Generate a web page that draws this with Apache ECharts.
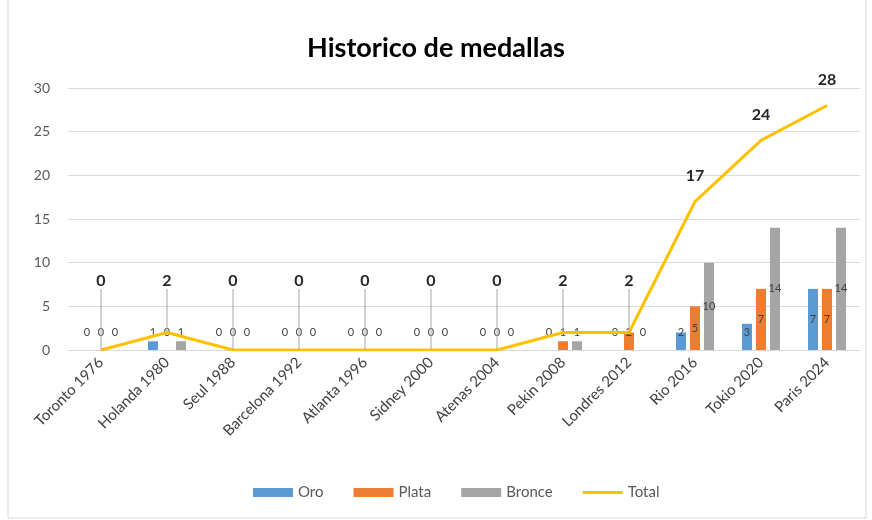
<!DOCTYPE html>
<html>
<head>
<meta charset="utf-8">
<script src="https://cdn.jsdelivr.net/npm/echarts@6/dist/echarts.min.js"></script>
<style>
  html, body { margin: 0; padding: 0; background: #fff; }
  #chart { width: 872px; height: 520px; }
</style>
</head>
<body>
<div id="chart"></div>
<script>
// datos
var juegos = ['Toronto 1976', 'Holanda 1980', 'Seul 1988', 'Barcelona 1992', 'Atlanta 1996', 'Sidney 2000',
  'Atenas 2004', 'Pekin 2008', 'Londres 2012', 'Rio 2016', 'Tokio 2020', 'Paris 2024'];
var oro    = [0, 1, 0, 0, 0, 0, 0, 0, 0, 2, 3, 7];
var plata  = [0, 0, 0, 0, 0, 0, 0, 1, 2, 5, 7, 7];
var bronce = [0, 1, 0, 0, 0, 0, 0, 1, 0, 10, 14, 14];
var total  = [0, 2, 0, 0, 0, 0, 0, 2, 2, 17, 24, 28];
var yTicks = [0, 5, 10, 15, 20, 25, 30];

var chart = echarts.init(document.getElementById('chart'));
var font = 'Lato, "Open Sans", sans-serif';

// etiquetas pequeñas en barras: centradas, pero no mas abajo que cerca del eje
function barData(arr) {
  return arr.map(function (v) {
    if (v <= 3) return { value: v, label: { position: 'insideBottom', distance: 12 } };
    return { value: v };
  });
}

function barSerie(name, arr, color) {
  return {
    name: name,
    type: 'bar',
    barWidth: 10,
    barGap: '40%',
    itemStyle: { color: color },
    label: {
      show: true,
      position: 'inside',
      color: '#404040',
      fontSize: 11,
      fontFamily: font
    },
    data: barData(arr)
  };
}

// totales bajos: etiqueta subida con linea guia
var totalData = total.map(function (v) {
  return { value: v, labelLine: { show: v <= 2 } };
});

var option = {
  animation: false,
  backgroundColor: '#fff',
  textStyle: { fontFamily: font },
  title: {
    text: 'Historico de medallas',
    left: 'center',
    top: 30,
    textStyle: { fontSize: 27, fontWeight: 'bold', color: '#000', fontFamily: font }
  },
  graphic: [{
    type: 'rect',
    shape: { x: 8, y: -2, width: 858, height: 520 },
    style: { fill: 'none', stroke: '#d9d9d9', lineWidth: 1 },
    silent: true
  }],
  legend: {
    bottom: 15,
    left: 248,
    itemWidth: 40,
    itemHeight: 9,
    itemGap: 30,
    textStyle: { fontSize: 15, color: '#595959', fontFamily: font },
    data: [
      { name: 'Oro', icon: 'rect' },
      { name: 'Plata', icon: 'rect' },
      { name: 'Bronce', icon: 'rect' },
      { name: 'Total', icon: 'path://M0,0 L40,0 L40,3 L0,3 Z' }
    ]
  },
  grid: { left: 68, right: 12, top: 88, bottom: 170, containLabel: false },
  xAxis: {
    type: 'category',
    data: juegos,
    axisLine: { lineStyle: { color: '#d9d9d9' } },
    axisTick: { show: false },
    axisLabel: { rotate: 45, fontSize: 15, color: '#404040', margin: 10, fontFamily: font }
  },
  yAxis: {
    type: 'value',
    min: yTicks[0],
    max: yTicks[yTicks.length - 1],
    interval: 5,
    axisLabel: { fontSize: 14, color: '#595959', margin: 18, fontFamily: font },
    splitLine: { lineStyle: { color: '#d9d9d9' } },
    axisLine: { show: false },
    axisTick: { show: false }
  },
  series: [
    barSerie('Oro', oro, '#5B9BD5'),
    barSerie('Plata', plata, '#ED7D31'),
    barSerie('Bronce', bronce, '#A5A5A5'),
    {
      name: 'Total',
      type: 'line',
      data: totalData,
      symbol: 'circle',
      symbolSize: 1,
      showSymbol: true,
      lineStyle: { color: '#FFC000', width: 3 },
      itemStyle: { color: '#FFC000' },
      z: 5,
      label: {
        show: true,
        position: 'top',
        distance: 17,
        fontSize: 16,
        fontWeight: 'bold',
        color: '#262626',
        fontFamily: font
      },
      labelLine: {
        show: false,
        lineStyle: { color: '#a6a6a6', width: 1 }
      },
      labelLayout: function (params) {
        if (total[params.dataIndex] <= 2) {
          return { y: 281, verticalAlign: 'middle', align: 'center', x: params.rect.x + params.rect.width / 2 };
        }
        return {};
      }
    }
  ]
};
chart.setOption(option);
</script>
</body>
</html>
